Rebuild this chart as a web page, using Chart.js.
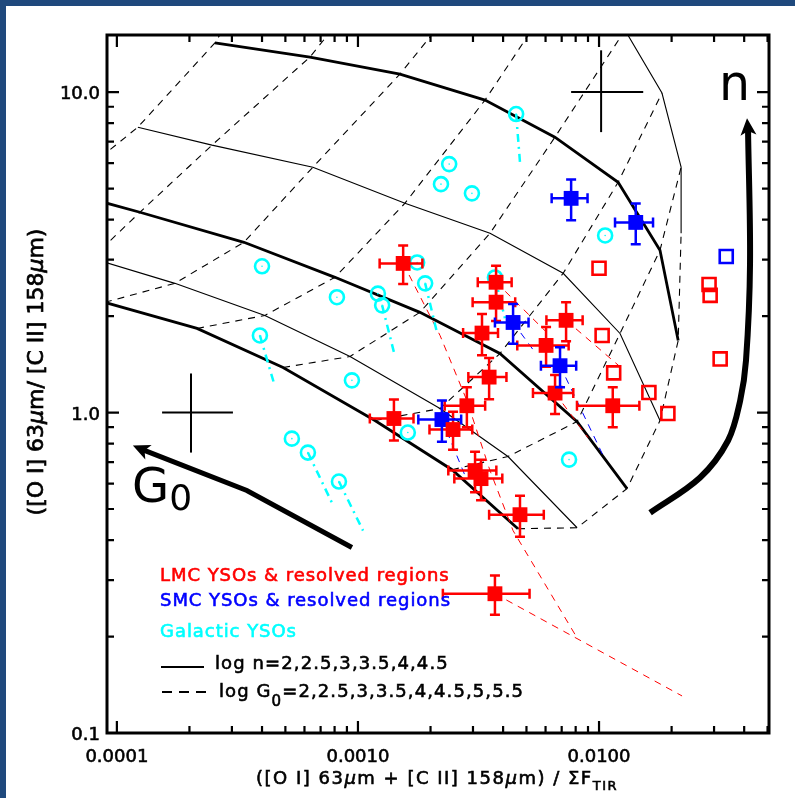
<!DOCTYPE html>
<html>
<head>
<meta charset="utf-8">
<script src="https://cdn.jsdelivr.net/npm/chart.js@4.4.1/dist/chart.umd.min.js"></script>
<style>
  html, body { margin: 0; padding: 0; background: #1f497d; }
  canvas { display: block; }
</style>
</head>
<body>
<canvas id="graficoPdr" width="795" height="798"></canvas>
<script>
// limites dos eixos (ambos logarítmicos)
const limX = [9.1e-5, 0.0507];
const limY = [0.1, 15.07];
const rotulosX = ['0.0001', '0.0010', '0.0100'];
const valoresRotX = [1e-4, 1e-3, 1e-2];
const rotulosY = ['0.1', '1.0', '10.0'];
const valoresRotY = [0.1, 1, 10];

// grade do modelo PDR: linhas = log n, colunas = log G0
const logN = [2, 2.5, 3, 3.5, 4, 4.5];
const logG0 = [2, 2.5, 3, 3.5, 4, 4.5, 5, 5.5];
const gradeX = [
  [4.61e-3, 2.455e-3, 1.176e-3, 4.89e-4, 2.15e-4, 8.92e-5, 4.36e-5, 2.70e-5],
  [8.11e-3, 4.19e-3, 2.19e-3, 9.27e-4, 4.11e-4, 1.74e-4, 7.87e-5, 3.96e-5],
  [1.306e-2, 8.11e-3, 3.88e-3, 1.807e-3, 8.03e-4, 3.365e-4, 1.246e-4, 5.80e-5],
  [1.79e-2, 1.222e-2, 7.10e-3, 3.53e-3, 1.567e-3, 6.50e-4, 2.48e-4, 1.222e-4],
  [2.13e-2, 1.79e-2, 1.20e-2, 6.56e-3, 3.365e-3, 1.493e-3, 6.32e-4, 2.55e-4],
  [2.19e-2, 2.19e-2, 1.824e-2, 1.282e-2, 5.97e-3, 2.455e-3, 9.09e-4, 3.09e-4]
];
const gradeY = [
  [0.434, 0.663, 0.944, 1.382, 1.830, 2.207, 2.566, 2.859],
  [0.437, 0.729, 1.029, 1.496, 2.009, 2.53, 3.03, 3.548],
  [0.579, 0.937, 1.528, 2.054, 2.642, 3.398, 4.217, 4.94],
  [0.944, 1.765, 2.72, 3.625, 4.50, 5.83, 6.83, 7.77],
  [1.679, 3.21, 5.23, 7.23, 9.44, 11.38, 12.86, 14.23],
  [3.625, 5.83, 9.93, 15.6, 18.04, 18.04, 18.04, 18.04]
];

// YSOs e regiões resolvidas da LMC (quadrados cheios)
const lmcX = [1.54e-3, 3.74e-3, 3.74e-3, 7.30e-3, 3.27e-3, 6.03e-3, 3.50e-3, 6.57e-3, 1.14e-2, 1.41e-3, 2.83e-3, 2.48e-3, 3.06e-3, 3.24e-3, 4.70e-3, 3.70e-3];
const lmcY = [2.92, 2.55, 2.21, 1.94, 1.77, 1.62, 1.29, 1.15, 1.05, 0.958, 1.05, 0.885, 0.659, 0.622, 0.480, 0.272];
const lmcErrX = [0.31e-3, 0.6e-3, 0.75e-3, 1.25e-3, 0.54e-3, 1.45e-3, 0.63e-3, 1.25e-3, 3.3e-3, 0.29e-3, 0.54e-3, 0.5e-3, 0.69e-3, 0.73e-3, 1.2e-3, 1.45e-3];
const lmcErrY = [0.40, 0.32, 0.28, 0.27, 0.26, 0.23, 0.19, 0.16, 0.15, 0.14, 0.15, 0.12, 0.095, 0.09, 0.07, 0.038];
// LMC sem barras (quadrados vazios)
const lmcAbertoX = [1.00e-2, 1.03e-2, 1.15e-2, 1.61e-2, 1.93e-2, 2.86e-2, 2.89e-2, 3.18e-2];
const lmcAbertoY = [2.82, 1.74, 1.33, 1.155, 0.993, 2.51, 2.32, 1.47];

// SMC
const smcX = [7.66e-3, 1.42e-2, 4.40e-3, 6.89e-3, 2.23e-3];
const smcY = [4.66, 3.92, 1.91, 1.40, 0.951];
const smcErrX = [1.3e-3, 2.55e-3, 0.7e-3, 1.15e-3, 0.45e-3];
const smcErrY = [0.68, 0.57, 0.27, 0.20, 0.14];
const smcAbertoX = [3.37e-2];
const smcAbertoY = [3.07];

// YSOs galácticos
const galX = [4.53e-3, 2.39e-3, 2.21e-3, 2.97e-3, 1.06e-2, 4.00e-4, 1.76e-3, 1.90e-3, 8.18e-4, 1.21e-3, 1.26e-3, 3.70e-3, 3.92e-4, 9.44e-4, 1.61e-3, 7.51e-3, 5.32e-4, 6.20e-4, 8.34e-4];
const galY = [8.54, 5.96, 5.16, 4.83, 3.57, 2.86, 2.94, 2.53, 2.29, 2.35, 2.16, 2.64, 1.74, 1.26, 0.866, 0.713, 0.829, 0.750, 0.609];
// trilhas (traço-ponto) saindo de alguns YSOs galácticos
const trilhaGalIdx = [0, 7, 10, 11, 12, 17, 18];
const trilhaGalFimX = [4.70e-3, 2.13e-3, 1.42e-3, 4.07e-3, 4.52e-4, 7.80e-4, 1.05e-3];
const trilhaGalFimY = [6.04, 1.77, 1.51, 1.97, 1.21, 0.523, 0.428];

// trilhas tracejadas da LMC (partem de um ponto cheio)
const trilhaLongaX = [1.54e-3, 2.19e-3, 2.83e-3, 3.53e-3, 4.40e-3, 8.11e-3];
const trilhaLongaY = [2.92, 1.74, 1.09, 0.659, 0.428, 0.198];
const trilhaLmcIdx = [15, 1, 3, 7];
const trilhaLmcFimX = [2.21e-2, 5.97e-3, 1.222e-2, 9.0e-3];
const trilhaLmcFimY = [0.1305, 1.80, 1.39, 0.835];
// trilhas tracejadas da SMC
const trilhaSmcIdx = [4, 3, 2];
const trilhaSmcFimX = [2.78e-3, 1.04e-2, 5.43e-3];
const trilhaSmcFimY = [0.636, 0.734, 1.54];

// setas n e G0, cruzes de erro típico
const setaNX = [1.629e-2, 2.62e-2, 3.43e-2, 3.85e-2, 4.07e-2, 4.23e-2, 4.15e-2, 4.11e-2];
const setaNY = [0.487, 0.626, 0.818, 1.09, 1.454, 2.92, 7.61, 8.29];
const setaG0X = [9.44e-4, 3.46e-4, 1.246e-4, 1.165e-4];
const setaG0Y = [0.379, 0.571, 0.772, 0.789];
const cruzCentroX = [1.02e-2, 2.03e-4];
const cruzCentroY = [10.0, 1.0];
const cruzXmin = [7.66e-3, 1.54e-4];
const cruzXmax = [1.525e-2, 3.03e-4];
const cruzYmin = [7.50, 0.75];
const cruzYmax = [13.5, 1.324];

const VERMELHO = '#ff0000', AZUL = '#0000ff', CIANO = '#00ffff', PRETO = '#000000';
const FONTE = '"DejaVu Sans", sans-serif';

const pares = (xs, ys) => xs.map((x, i) => ({ x: x, y: ys[i] }));

const conjuntos = [];

// pontos (ficam por cima)
conjuntos.push({ data: pares(lmcX, lmcY), pointStyle: 'rect', pointRadius: 10.5, borderWidth: 0,
  backgroundColor: VERMELHO, borderColor: VERMELHO, erroX: lmcErrX, erroY: lmcErrY, order: 0 });
conjuntos.push({ data: pares(smcX, smcY), pointStyle: 'rect', pointRadius: 10.5, borderWidth: 0,
  backgroundColor: AZUL, borderColor: AZUL, erroX: smcErrX, erroY: smcErrY, order: 0 });
conjuntos.push({ data: pares(lmcAbertoX, lmcAbertoY), pointStyle: 'rect', pointRadius: 9.2, borderWidth: 2.6,
  backgroundColor: 'rgba(0,0,0,0)', borderColor: VERMELHO, order: 0 });
conjuntos.push({ data: pares(smcAbertoX, smcAbertoY), pointStyle: 'rect', pointRadius: 9.2, borderWidth: 2.6,
  backgroundColor: 'rgba(0,0,0,0)', borderColor: AZUL, order: 0 });
conjuntos.push({ data: pares(galX, galY), pointStyle: 'circle', pointRadius: 7, borderWidth: 2.6,
  backgroundColor: 'rgba(0,0,0,0)', borderColor: CIANO, order: 0 });
conjuntos.push({ data: pares(galX, galY), pointStyle: 'circle', pointRadius: 0.8, borderWidth: 0,
  backgroundColor: CIANO, order: 0 });

// trilhas
trilhaGalIdx.forEach((k, i) => conjuntos.push({
  data: [{ x: galX[k], y: galY[k] }, { x: trilhaGalFimX[i], y: trilhaGalFimY[i] }],
  showLine: true, pointRadius: 0, borderColor: CIANO, borderWidth: 2.5, borderDash: [8, 5, 2, 5], order: 1 }));
conjuntos.push({ data: pares(trilhaLongaX, trilhaLongaY), showLine: true, pointRadius: 0,
  borderColor: VERMELHO, borderWidth: 1, borderDash: [7, 6], order: 1 });
trilhaLmcIdx.forEach((k, i) => conjuntos.push({
  data: [{ x: lmcX[k], y: lmcY[k] }, { x: trilhaLmcFimX[i], y: trilhaLmcFimY[i] }],
  showLine: true, pointRadius: 0, borderColor: VERMELHO, borderWidth: 1, borderDash: [7, 6], order: 1 }));
trilhaSmcIdx.forEach((k, i) => conjuntos.push({
  data: [{ x: smcX[k], y: smcY[k] }, { x: trilhaSmcFimX[i], y: trilhaSmcFimY[i] }],
  showLine: true, pointRadius: 0, borderColor: AZUL, borderWidth: 1, borderDash: [7, 6], order: 1 }));

// grade do modelo: linhas cheias (n constante) e tracejadas (G0 constante)
logN.forEach((n, i) => conjuntos.push({
  data: pares(gradeX[i], gradeY[i]), showLine: true, pointRadius: 0, borderColor: PRETO,
  borderWidth: Number.isInteger(n) ? 2.8 : 1.1, order: 2 }));
logG0.forEach((g, j) => conjuntos.push({
  data: pares(gradeX.map(l => l[j]), gradeY.map(l => l[j])), showLine: true, pointRadius: 0,
  borderColor: PRETO, borderWidth: 1.1, borderDash: [7, 6], order: 2 }));

// setas e cruzes
conjuntos.push({ data: pares(setaNX.slice(0, -1), setaNY.slice(0, -1)), showLine: true, pointRadius: 0,
  borderColor: PRETO, borderWidth: 6, tension: 0.35, order: 1, ponta: pares(setaNX, setaNY) });
conjuntos.push({ data: pares(setaG0X.slice(0, -1), setaG0Y.slice(0, -1)), showLine: true, pointRadius: 0,
  borderColor: PRETO, borderWidth: 5, order: 1, ponta: pares(setaG0X, setaG0Y) });
cruzCentroX.forEach((cx, i) => {
  conjuntos.push({ data: [{ x: cruzXmin[i], y: cruzCentroY[i] }, { x: cruzXmax[i], y: cruzCentroY[i] }],
    showLine: true, pointRadius: 0, borderColor: PRETO, borderWidth: 2, order: 1 });
  conjuntos.push({ data: [{ x: cx, y: cruzYmin[i] }, { x: cx, y: cruzYmax[i] }],
    showLine: true, pointRadius: 0, borderColor: PRETO, borderWidth: 2, order: 1 });
});

// texto com trechos de fontes diferentes (subscritos, mu itálico)
function textoRico(c, partes, x, y, alinhar, grossura, espaco) {
  c.letterSpacing = (espaco || 0) + 'px';
  let total = 0;
  partes.forEach(p => { c.font = p.f; total += c.measureText(p.t).width; });
  let cx = alinhar === 'center' ? x - total / 2 : x;
  partes.forEach(p => {
    c.font = p.f;
    c.fillText(p.t, cx, y + (p.dy || 0));
    if (grossura) { c.lineWidth = grossura; c.strokeText(p.t, cx, y + (p.dy || 0)); }
    cx += c.measureText(p.t).width;
  });
  c.letterSpacing = '0px';
}

function pontaSeta(c, a, b, comp, larg) {
  const ang = Math.atan2(b.y - a.y, b.x - a.x);
  c.save();
  c.translate(b.x, b.y);
  c.rotate(ang);
  c.beginPath();
  c.moveTo(0, 0);
  c.lineTo(-comp, -larg);
  c.lineTo(-comp * 0.75, 0);
  c.lineTo(-comp, larg);
  c.closePath();
  c.fill();
  c.restore();
}

const pluginFundo = {
  id: 'fundo',
  beforeDraw(chart) {
    const c = chart.ctx;
    c.save();
    c.fillStyle = '#1f497d';
    c.fillRect(0, 0, chart.width, chart.height);
    c.fillStyle = '#ffffff';
    c.fillRect(6, 6, chart.width - 6, chart.height - 6);
    c.restore();
  }
};

const pluginErros = {
  id: 'barrasErro',
  afterDatasetsDraw(chart) {
    const c = chart.ctx, sx = chart.scales.x, sy = chart.scales.y;
    c.save();
    c.lineWidth = 2.5;
    chart.data.datasets.forEach(ds => {
      if (!ds.erroX) return;
      c.strokeStyle = ds.borderColor;
      ds.data.forEach((p, i) => {
        const x0 = sx.getPixelForValue(p.x - ds.erroX[i]), x1 = sx.getPixelForValue(p.x + ds.erroX[i]);
        const y0 = sy.getPixelForValue(p.y - ds.erroY[i]), y1 = sy.getPixelForValue(p.y + ds.erroY[i]);
        const px = sx.getPixelForValue(p.x), py = sy.getPixelForValue(p.y);
        c.beginPath();
        c.moveTo(x0, py); c.lineTo(x1, py);
        c.moveTo(x0, py - 5); c.lineTo(x0, py + 5);
        c.moveTo(x1, py - 5); c.lineTo(x1, py + 5);
        c.moveTo(px, y0); c.lineTo(px, y1);
        c.moveTo(px - 5, y0); c.lineTo(px + 5, y0);
        c.moveTo(px - 5, y1); c.lineTo(px + 5, y1);
        c.stroke();
      });
    });
    // pontas das setas
    c.fillStyle = PRETO;
    chart.data.datasets.forEach(ds => {
      if (!ds.ponta) return;
      const n = ds.ponta.length;
      const a = { x: sx.getPixelForValue(ds.ponta[n - 2].x), y: sy.getPixelForValue(ds.ponta[n - 2].y) };
      const b = { x: sx.getPixelForValue(ds.ponta[n - 1].x), y: sy.getPixelForValue(ds.ponta[n - 1].y) };
      pontaSeta(c, a, b, 17, 8);
    });
    c.restore();
  }
};

const pluginEixos = {
  id: 'eixos',
  afterDraw(chart) {
    const c = chart.ctx, a = chart.chartArea, sx = chart.scales.x, sy = chart.scales.y;
    c.save();
    c.strokeStyle = PRETO;
    c.fillStyle = PRETO;
    c.lineWidth = 3;
    c.strokeRect(a.left, a.top, a.right - a.left, a.bottom - a.top);
    c.lineWidth = 2.2;
    c.beginPath();
    for (let d = -5; d <= 1; d++) {
      for (let k = 1; k <= 9; k++) {
        const v = k * Math.pow(10, d);
        const comp = k === 1 ? 12 : 7;
        if (v >= sx.min && v <= sx.max) {
          const px = sx.getPixelForValue(v);
          c.moveTo(px, a.bottom); c.lineTo(px, a.bottom - comp);
          c.moveTo(px, a.top); c.lineTo(px, a.top + comp);
        }
        if (v >= sy.min && v <= sy.max) {
          const py = sy.getPixelForValue(v);
          c.moveTo(a.left, py); c.lineTo(a.left + comp, py);
          c.moveTo(a.right, py); c.lineTo(a.right - comp, py);
        }
      }
    }
    c.stroke();

    const f18 = '18px ' + FONTE, f18i = 'italic 18px ' + FONTE;
    const f22 = '22px ' + FONTE, f22i = 'italic 22px ' + FONTE;
    c.strokeStyle = PRETO;
    c.textBaseline = 'alphabetic';
    c.textAlign = 'left';
    // rótulos dos eixos
    rotulosX.forEach((t, i) => textoRico(c, [{ t: t, f: f18 }], sx.getPixelForValue(valoresRotX[i]), 762, 'center', 0.6));
    rotulosY.forEach((t, i) => {
      c.font = f18;
      const w = c.measureText(t).width;
      textoRico(c, [{ t: t, f: f18 }], a.left - 7 - w, sy.getPixelForValue(valoresRotY[i]) + 7, 'left', 0.6);
    });

    // títulos
    textoRico(c, [
      { t: '([O I] 63', f: f18 }, { t: 'μ', f: f18i }, { t: 'm + [C II] 158', f: f18 }, { t: 'μ', f: f18i },
      { t: 'm) / ΣF', f: f18 }, { t: 'TIR', f: '13px ' + FONTE, dy: 6 }
    ], 437, 784, 'center', 0.6, 1.5);
    c.save();
    c.translate(43, 372);
    c.rotate(-Math.PI / 2);
    textoRico(c, [
      { t: '([O I] 63', f: f22 }, { t: 'μ', f: f22i }, { t: 'm/ [C II] 158', f: f22 }, { t: 'μ', f: f22i }, { t: 'm)', f: f22 }
    ], 0, 0, 'center', 0.7);
    c.restore();

    // letras grandes
    textoRico(c, [{ t: 'n', f: '49px ' + FONTE }], 719, 100, 'left', 0);
    textoRico(c, [{ t: 'G', f: '48px ' + FONTE }, { t: '0', f: '36px ' + FONTE, dy: 8 }], 132, 502, 'left', 0);

    // legenda
    c.fillStyle = VERMELHO; c.strokeStyle = VERMELHO;
    textoRico(c, [{ t: 'LMC YSOs & resolved regions', f: f18 }], 160, 581, 'left', 0.6, 0.95);
    c.fillStyle = AZUL; c.strokeStyle = AZUL;
    textoRico(c, [{ t: 'SMC YSOs & resolved regions', f: f18 }], 160, 606, 'left', 0.6, 0.95);
    c.fillStyle = CIANO; c.strokeStyle = CIANO;
    textoRico(c, [{ t: 'Galactic YSOs', f: f18 }], 160, 637, 'left', 0.6, 0.95);
    c.fillStyle = PRETO; c.strokeStyle = PRETO;
    textoRico(c, [{ t: 'log n=2,2.5,3,3.5,4,4.5', f: f18 }], 215, 669, 'left', 0.6, 1.1);
    textoRico(c, [{ t: 'log G', f: f18 }, { t: '0', f: '15px ' + FONTE, dy: 9 }, { t: '=2,2.5,3,3.5,4,4.5,5,5.5', f: f18 }], 219, 697, 'left', 0.6, 1.1);
    c.lineWidth = 2;
    c.beginPath(); c.moveTo(161, 667); c.lineTo(204, 667); c.stroke();
    c.setLineDash([10, 7]);
    c.beginPath(); c.moveTo(162, 692); c.lineTo(206, 692); c.stroke();
    c.restore();
  }
};

const grafico = new Chart(document.getElementById('graficoPdr').getContext('2d'), {
  type: 'scatter',
  data: { datasets: conjuntos },
  options: {
    responsive: false,
    animation: false,
    events: [],
    layout: { padding: { left: 107, right: 26, top: 35, bottom: 65 } },
    scales: {
      x: { type: 'logarithmic', min: limX[0], max: limX[1], bounds: 'data', display: false },
      y: { type: 'logarithmic', min: limY[0], max: limY[1], bounds: 'data', display: false }
    },
    plugins: { legend: { display: false }, tooltip: { enabled: false } }
  },
  plugins: [pluginFundo, pluginErros, pluginEixos]
});
</script>
</body>
</html>
